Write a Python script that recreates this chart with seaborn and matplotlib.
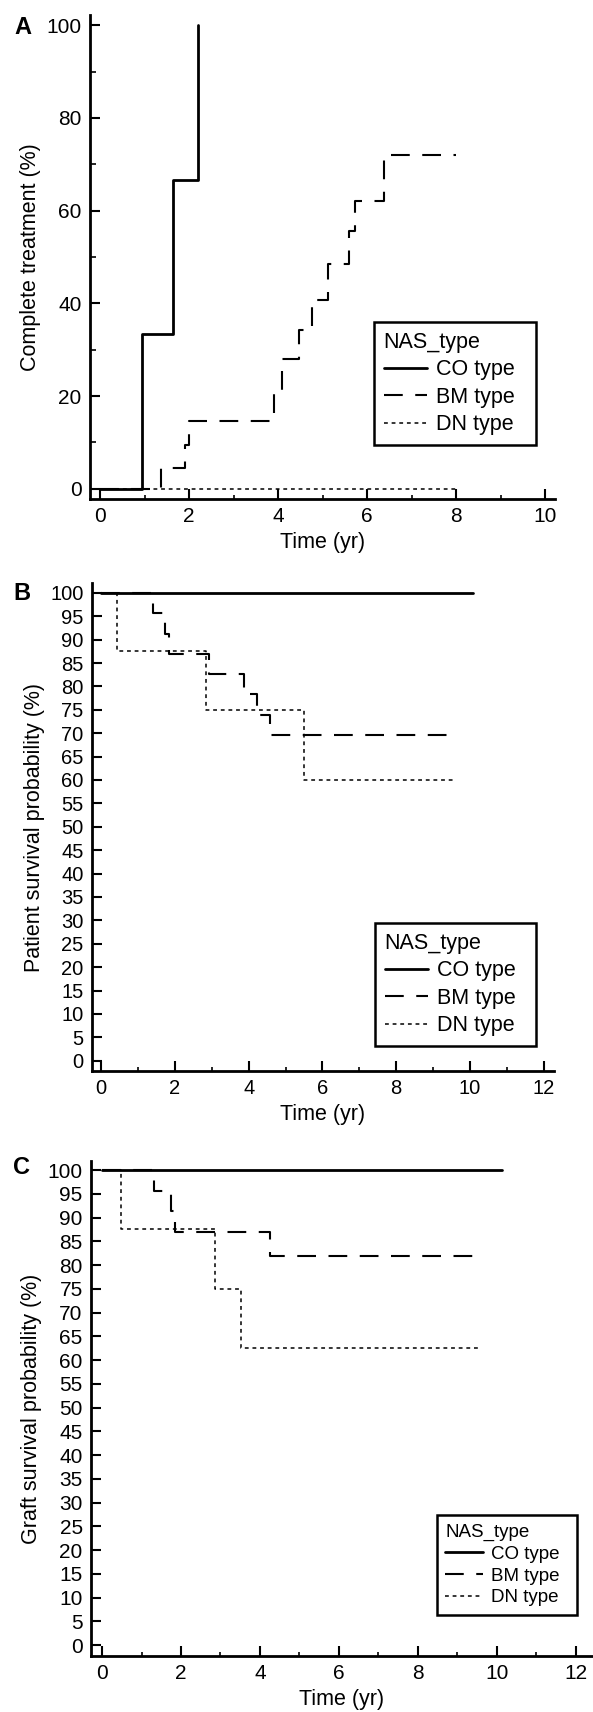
"""
Kaplan-Meier style curves by NAS type: complete treatment, patient and graft survival.
"""
import matplotlib
matplotlib.use('Agg')
import matplotlib.pyplot as plt
import seaborn as sns
from matplotlib.ticker import MultipleLocator

sns.set_style("ticks", rc={
    'axes.edgecolor': 'black', 'text.color': 'black', 'axes.labelcolor': 'black',
    'xtick.color': 'black', 'ytick.color': 'black',
})
plt.rcParams['font.family'] = ['Liberation Sans', 'DejaVu Sans']

# ---- data (time in years, value in %) ----
groups = ['CO type', 'BM type', 'DN type']

# A: complete treatment
co_a_t = [0, 0.94, 1.63, 2.19]
co_a_v = [0, 33.3, 66.7, 100]
bm_a_t = [0, 1.36, 1.90, 2.0, 3.9, 4.09, 4.46, 4.76, 5.12, 5.6, 5.73, 6.37, 8.0]
bm_a_v = [0, 4.5, 9.5, 14.6, 21.0, 27.9, 34.3, 40.8, 48.4, 55.6, 62.0, 72.0, 72.0]
dn_a_t = [0, 8.0]
dn_a_v = [0, 0]

# B: patient survival
co_b_t = [0, 10.08]
co_b_v = [100, 100]
bm_b_t = [0, 1.41, 1.73, 1.84, 2.93, 3.88, 4.23, 4.59, 9.67]
bm_b_v = [100, 95.7, 91.3, 87.0, 82.6, 78.3, 73.9, 69.6, 69.6]
dn_b_t = [0, 0.43, 2.84, 5.51, 9.57]
dn_b_v = [100, 87.5, 75, 60, 60]

# C: graft survival
co_c_t = [0, 10.13]
co_c_v = [100, 100]
bm_c_t = [0, 1.32, 1.75, 1.84, 4.26, 9.67]
bm_c_v = [100, 95.65, 91.3, 86.96, 82.0, 82.0]
dn_c_t = [0, 0.47, 2.85, 3.53, 9.53]
dn_c_v = [100, 87.5, 75, 62.5, 62.5]

styles = {
    'CO type': dict(linestyle='-', linewidth=2.0),
    'BM type': dict(linestyle=(0, (9, 6)), linewidth=1.5),
    'DN type': dict(linestyle=(0, (2.5, 2.5)), linewidth=1.1),
}

W, H = 593, 1712
fig = plt.figure(figsize=(W / 100, H / 100), dpi=100)


def px_axes(left, right, top, bottom):
    return fig.add_axes([left / W, 1 - bottom / H, (right - left) / W, (bottom - top) / H])


def draw_panel(ax, series, xlim, ylim, ytick_step, ylabel, tick_size, narrow=False,
               yminor=None, leg_box=(0, 0, 100), leg_size=15, labelspacing=0.3):
    for name, (t, v) in zip(groups, series):
        sns.lineplot(x=t, y=v, ax=ax, color='black', drawstyle='steps-post',
                     estimator=None, sort=False, **styles[name])
    ax.set_xlim(*xlim)
    ax.set_ylim(*ylim)
    ax.xaxis.set_major_locator(MultipleLocator(2))
    ax.xaxis.set_minor_locator(MultipleLocator(1))
    ax.yaxis.set_major_locator(MultipleLocator(ytick_step))
    if yminor:
        ax.yaxis.set_minor_locator(MultipleLocator(yminor))
    sns.despine(ax=ax)
    for s in ['left', 'bottom']:
        ax.spines[s].set_linewidth(2.0)
    ax.tick_params(which='major', direction='in', length=7.5, width=1.5,
                   labelsize=tick_size, pad=6)
    ax.tick_params(which='minor', direction='in', length=2.8, width=1.2)
    ax.tick_params(axis='y', which='minor', length=4.3 if yminor else 0)
    fam = ['Liberation Sans Narrow', 'Liberation Sans'] if narrow else ['Liberation Sans']
    for lab in ax.get_xticklabels() + ax.get_yticklabels():
        lab.set_family(fam)
    ax.set_xlabel('Time (yr)', fontsize=15.5, labelpad=4)
    ax.set_ylabel(ylabel, fontsize=15.5, labelpad=4)

    # legend box: left, top, width in figure pixels
    lx, ly, lw = leg_box
    handles = ax.get_lines()[:3]
    leg = ax.legend(handles, groups, title='NAS_type', loc='upper left',
                    bbox_to_anchor=(lx / W, 1 - ly / H, lw / W, 0.001),
                    bbox_transform=fig.transFigure, borderaxespad=0, mode='expand',
                    fontsize=leg_size, title_fontsize=leg_size, alignment='left',
                    fancybox=False, framealpha=1, edgecolor='black',
                    handlelength=2.0, handletextpad=0.45,
                    labelspacing=labelspacing, borderpad=0.45)
    leg.get_frame().set_linewidth(1.8)


ax_a = px_axes(90, 555, 15, 499)
draw_panel(ax_a, [(co_a_t, co_a_v), (bm_a_t, bm_a_v), (dn_a_t, dn_a_v)],
           (-0.23, 10.22), (-2.2, 102.2), 20, 'Complete treatment (%)', 15,
           yminor=10, leg_box=(374, 324, 162), leg_size=15.5)

ax_b = px_axes(92, 554, 583, 1071)
draw_panel(ax_b, [(co_b_t, co_b_v), (bm_b_t, bm_b_v), (dn_b_t, dn_b_v)],
           (-0.25, 12.28), (-2.2, 102.1), 5, 'Patient survival probability (%)', 14.5,
           leg_box=(375, 925, 161), leg_size=15.5)

ax_c = px_axes(91, 593, 1161, 1656)
draw_panel(ax_c, [(co_c_t, co_c_v), (bm_c_t, bm_c_v), (dn_c_t, dn_c_v)],
           (-0.28, 12.44), (-2.3, 101.9), 5, 'Graft survival probability (%)', 15,
           narrow=True, leg_box=(437, 1517, 140), leg_size=13.5, labelspacing=0.25)

for label, (x, y) in zip(['A', 'B', 'C'], [(23, 27), (22, 594), (22, 1167)]):
    fig.text(x / W, 1 - y / H, label, fontsize=17, fontweight='bold',
             ha='center', va='center')

fig.savefig('out.png', dpi=100)
